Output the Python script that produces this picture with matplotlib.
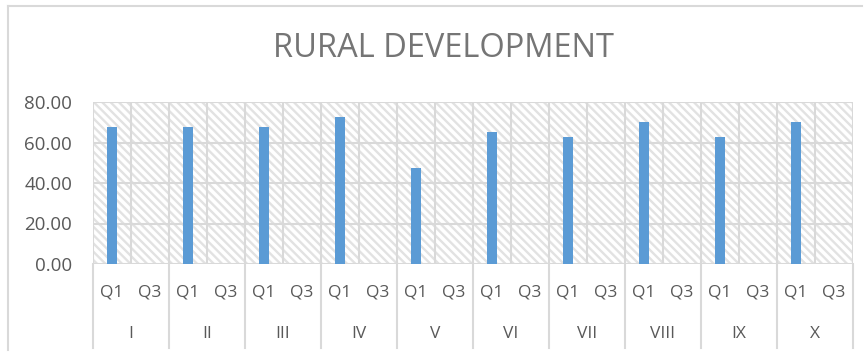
import matplotlib.pyplot as plt
from matplotlib.patches import Rectangle
from matplotlib.lines import Line2D

plt.rcParams['font.family'] = ['Open Sans', 'DejaVu Sans']
plt.rcParams['hatch.color'] = '#e2e2e2'
plt.rcParams['hatch.linewidth'] = 1.7

# Scores per district, Q1 and Q3
districts = ['I', 'II', 'III', 'IV', 'V', 'VI', 'VII', 'VIII', 'IX', 'X']
quarters = ['Q1', 'Q3']
q1_values = [67.5, 67.5, 67.5, 72.5, 47.5, 65.0, 62.5, 70.0, 62.5, 70.0]
q3_values = [0, 0, 0, 0, 0, 0, 0, 0, 0, 0]
y_ticks = [0, 20, 40, 60, 80]

values = []
labels = []
for a, b in zip(q1_values, q3_values):
    values += [a, b]
    labels += quarters
x = list(range(len(values)))

fig = plt.figure(figsize=(8.67, 3.56), dpi=100)
ax = fig.add_axes([93 / 867, 92 / 356, 760 / 867, 162 / 356])

grid_c = '#d9d9d9'
text_c = '#595959'

# hatched plot background
ax.add_patch(Rectangle((0, 0), 1, 1, transform=ax.transAxes, facecolor='white',
                       edgecolor='#e2e2e2', hatch='\\\\\\\\', linewidth=0, zorder=0))

ax.bar(x, values, width=0.28, color='#5b9bd5', zorder=3)

ax.set_xlim(-0.5, len(values) - 0.5)
ax.set_ylim(0, 80)
ax.set_yticks(y_ticks)
ax.set_yticklabels([f'{v:.2f}' for v in y_ticks], fontsize=13.5, color=text_c)
ax.tick_params(axis='y', length=0, pad=15)

ax.set_xticks(x)
ax.set_xticklabels(labels, fontsize=12.5, color=text_c)
ax.tick_params(axis='x', length=0, pad=15)

# grid lines
for v in y_ticks:
    ax.axhline(v, color=grid_c, lw=1.5, zorder=1)
for i in range(len(values) + 1):
    ax.axvline(i - 0.5, color=grid_c, lw=1.5, zorder=1)

for s in ax.spines.values():
    s.set_visible(False)

# district labels and separators below the axis
for i, name in enumerate(districts):
    ax.text(2 * i + 0.5, -0.435, name, transform=ax.get_xaxis_transform(),
            ha='center', va='center', fontsize=12.5, color=text_c)
for i in range(len(districts) + 1):
    ax.plot([2 * i - 0.5, 2 * i - 0.5], [0, -0.52], transform=ax.get_xaxis_transform(),
            color=grid_c, lw=1.5, clip_on=False)

fig.text(0.512, 0.865, 'RURAL DEVELOPMENT', ha='center', va='center',
         fontsize=23.5, color='#757575')

# chart frame (left and top edges)
fig.add_artist(Line2D([7.5 / 867, 7.5 / 867], [1 - 350 / 356, 1 - 6 / 356], color=grid_c, lw=1.5))
fig.add_artist(Line2D([7.5 / 867, 862 / 867], [1 - 6 / 356, 1 - 6 / 356], color=grid_c, lw=1.5))

fig.savefig('out.png', dpi=100)
